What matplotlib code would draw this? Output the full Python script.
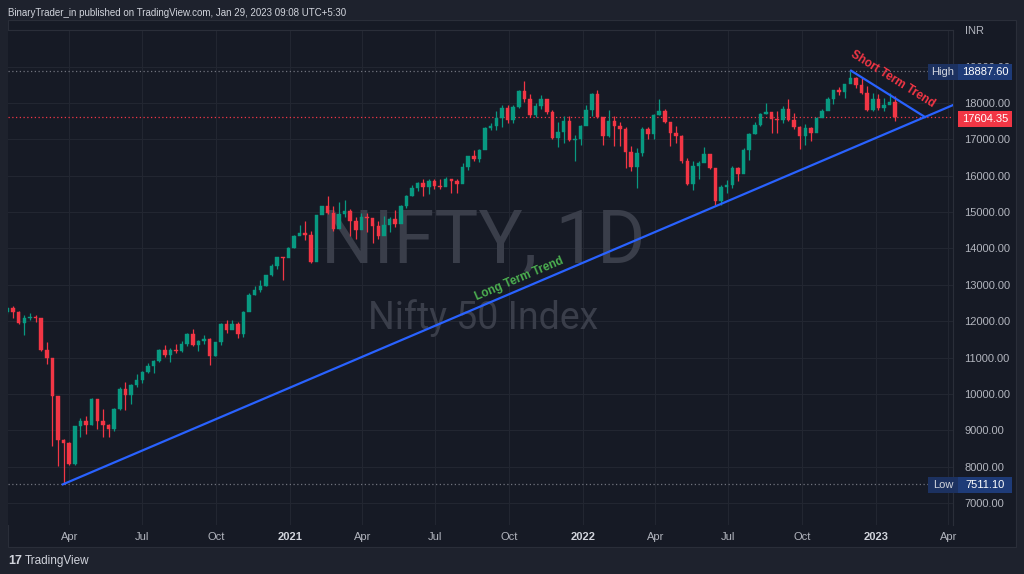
import matplotlib
matplotlib.use("Agg")
import matplotlib.pyplot as plt
import matplotlib.dates as mdates
from matplotlib.patches import Rectangle
import pandas as pd

# weekly NIFTY bars (week ending Friday)
first_open = 12256
highs = [12389, 12430, 12273, 12160, 12231, 12159, 12087, 11433, 10751, 9838,
         8750, 8678, 9128, 9324, 9390, 9890, 9450, 9584, 9178, 9598,
         10177, 10328, 10272, 10553, 10631, 10847, 10933, 11225, 11341, 11256,
         11373, 11460, 11686, 11794, 11493, 11618, 11535, 11428, 11939, 12025,
         12018, 11975, 12280, 12770, 12963, 13145, 13280, 13579, 13773, 13778,
         14050, 14367, 14653, 14754, 14491, 14932, 15168, 15432, 15176, 15274,
         15336, 15092, 14878, 14984, 14984, 14697, 14753, 14891, 14863, 15044,
         15189, 15469, 15733, 15835, 15901, 15903, 15915, 15915, 15962, 15880,
         15899, 16350, 16543, 16702, 16722, 17340, 17436, 17792, 17947, 17948,
         17941, 18350, 18604, 18241, 18012, 18210, 18123, 17805, 17490, 17639,
         17639, 17118, 17400, 17944, 18286, 18351, 17599, 17794, 17640, 17490,
         17352, 16815, 16758, 17344, 17353, 17704, 18114, 17842, 17422, 17379,
         17132, 16484, 16400, 16414, 16793, 16610, 16083, 15749, 15890, 16275,
         16248, 16752, 17172, 17490, 17724, 17992, 17686, 17778, 17925, 18096,
         17722, 17377, 17428, 17348, 17607, 17838, 18176, 18362, 18442, 18534,
         18888, 18728, 18697, 18473, 18265, 18251, 18142, 18262, 18202]
lows = [12200, 12087, 11930, 11614, 12030, 11990, 11175, 10827, 8555, 8005,
        7511, 8056, 8055, 8823, 8909, 9131, 9044, 8807, 8806, 8968,
        9544, 9544, 9726, 10194, 10299, 10562, 10562, 10887, 11026, 10882,
        11112, 11147, 11327, 11303, 11185, 11367, 10790, 11040, 11347, 11661,
        11775, 11535, 11557, 12321, 12731, 12790, 12962, 13241, 13438, 13131,
        13786, 14021, 14357, 14222, 13596, 13662, 14977, 14935, 14467, 14638,
        14862, 14350, 14264, 14616, 14459, 14151, 14273, 14416, 14461, 14591,
        14758, 15114, 15451, 15586, 15450, 15505, 15635, 15635, 15707, 15514,
        15514, 15834, 16162, 16395, 16376, 16764, 17255, 17270, 17327, 17452,
        17452, 17865, 18032, 17614, 17613, 17836, 17688, 17000, 16782, 16891,
        16966, 16410, 16833, 17383, 17655, 17599, 16836, 17064, 16809, 16810,
        16203, 16133, 15671, 16555, 17006, 17004, 17660, 17442, 16824, 16888,
        16340, 15735, 15601, 15903, 16439, 16172, 15184, 15183, 15511, 15662,
        15858, 16143, 16438, 17154, 17359, 17710, 17166, 17167, 17443, 17497,
        17291, 16748, 16855, 16950, 17312, 17656, 17959, 17969, 18209, 18133,
        18591, 18410, 18256, 17774, 17779, 17796, 17774, 17999, 17494]
closes = [12352, 12248, 11962, 12098, 12113, 12080, 11202, 10989, 9955, 8745,
          8660, 8084, 9112, 9267, 9154, 9860, 9251, 9137, 9040, 9580,
          10142, 9972, 10244, 10383, 10608, 10768, 10902, 11194, 11073, 11214,
          11178, 11372, 11647, 11333, 11464, 11505, 11050, 11417, 11914, 11762,
          11930, 11642, 12264, 12720, 12859, 12969, 13258, 13514, 13761, 13749,
          14018, 14347, 14433, 14372, 13635, 14924, 15163, 14982, 14529, 14938,
          15031, 14744, 14507, 14867, 14835, 14617, 14341, 14631, 14823, 14678,
          15175, 15436, 15670, 15799, 15683, 15860, 15722, 15690, 15923, 15856,
          15763, 16238, 16529, 16450, 16705, 17324, 17369, 17585, 17853, 17532,
          17895, 18338, 18114, 17671, 17916, 18102, 17765, 17026, 17196, 17511,
          16985, 17003, 17354, 17812, 18255, 17617, 17102, 17516, 17374, 17276,
          16658, 16245, 16630, 17287, 17153, 17670, 17784, 17475, 17172, 17103,
          16411, 15782, 16266, 16352, 16584, 16202, 15294, 15699, 15752, 16221,
          16049, 16719, 17158, 17398, 17698, 17758, 17559, 17539, 17833, 17531,
          17327, 17094, 17315, 17186, 17576, 17787, 18117, 18350, 18308, 18512,
          18696, 18497, 18269, 17807, 18105, 17859, 17956, 18027, 17604.35]
weeks = pd.date_range("2020-01-17", periods=len(closes), freq="W-FRI")
opens = [first_open] + closes[:-1]

high_val = 18887.60
low_val = 7511.10
last_val = 17604.35
long_trend = (["2020-03-24", "2023-04-12"], [7511.10, 17990])
short_trend = (["2022-12-01", "2023-03-03"], [18887.60, 17615])
price_ticks = list(range(7000, 20000, 1000))
quarters = ["2020-04-01", "2020-07-01", "2020-10-01", "2021-01-01", "2021-04-01",
            "2021-07-01", "2021-10-01", "2022-01-01", "2022-04-01", "2022-07-01",
            "2022-10-01", "2023-01-01", "2023-04-01"]
quarter_labels = ["Apr", "Jul", "Oct", "2021", "Apr", "Jul", "Oct", "2022",
                  "Apr", "Jul", "Oct", "2023", "Apr"]

UP = "#089981"
DOWN = "#f23645"
BG = "#161a25"
GRID = "#222631"
TXT = "#b2b5be"
plt.rcParams["font.family"] = ["Liberation Sans", "DejaVu Sans"]

fig = plt.figure(figsize=(10.24, 5.74), dpi=100, facecolor="#1e222d")
W, H = 1024, 574
fig.patches.append(Rectangle((8 / W, 1 - 547 / H), 1008 / W, 527 / H,
                             transform=fig.transFigure, facecolor=BG,
                             edgecolor="#2a2e39", lw=0.8, zorder=-5))

ax = fig.add_axes([8 / W, 1 - 525 / H, 945 / W, 495 / H])
ax.set_facecolor(BG)

d0 = mdates.date2num(pd.Timestamp("2021-01-01"))
ppd = 0.8027
ax.set_xlim(d0 - 282 / ppd, d0 + 663 / ppd)
ax.set_ylim(6394, 20007)

for p in price_ticks:
    ax.axhline(p, color=GRID, lw=0.8, zorder=1)
qnums = [mdates.date2num(pd.Timestamp(q)) for q in quarters]
for q in qnums:
    ax.axvline(q, color=GRID, lw=0.8, zorder=1)

# watermark
ax.text(0.503, 0.572, "NIFTY, 1D", transform=ax.transAxes, ha="center",
        va="center", fontsize=53, color="#3a3e4a", family=["Roboto", "DejaVu Sans"],
        zorder=2)
ax.text(0.503, 0.418, "Nifty 50 Index", transform=ax.transAxes, ha="center",
        va="center", fontsize=27, color="#3a3e4a", family=["Roboto", "DejaVu Sans"],
        zorder=2)

# candles
xs = mdates.date2num(weeks) - 2
for x, o, h, l, c in zip(xs, opens, highs, lows, closes):
    col = UP if c >= o else DOWN
    ax.vlines(x, l, h, color=col, lw=0.9, zorder=4)
    ax.add_patch(Rectangle((x - 2.2, min(o, c)), 4.4, max(abs(c - o), 8),
                           facecolor=col, edgecolor=col, lw=0.3, zorder=4))

# reference lines
ax.axhline(high_val, color="#70737d", lw=0.9, ls=(0, (1, 2)), zorder=3)
ax.axhline(low_val, color="#70737d", lw=0.9, ls=(0, (1, 2)), zorder=3)
ax.axhline(last_val, color=DOWN, lw=0.9, ls=(0, (1, 2)), zorder=3)

# trend lines
lx = mdates.date2num(pd.to_datetime(long_trend[0]))
sx = mdates.date2num(pd.to_datetime(short_trend[0]))
ax.plot(lx, long_trend[1], color="#2962ff", lw=1.6, zorder=5)
ax.plot(sx, short_trend[1], color="#2962ff", lw=1.6, zorder=5)
ax.text(mdates.date2num(pd.Timestamp("2021-10-14")), 13150, "Long Term Trend",
        color="#4caf50", fontsize=8.5, fontweight="bold", rotation=23,
        ha="center", va="center", zorder=6)
ax.text(mdates.date2num(pd.Timestamp("2023-01-22")), 18650, "Short Term Trend",
        color=DOWN, fontsize=8.5, fontweight="bold", rotation=-32,
        ha="center", va="center", zorder=6)

ax.set_xticks(qnums)
ax.set_xticklabels(quarter_labels)
for lab in ax.get_xticklabels():
    if lab.get_text().isdigit():
        lab.set_fontweight("bold")
        lab.set_color("#d1d4dc")
    else:
        lab.set_color(TXT)
ax.tick_params(axis="x", length=0, pad=5, labelsize=8)
ax.yaxis.tick_right()
ax.set_yticks(price_ticks)
ax.set_yticklabels([f"{p:.2f}" for p in price_ticks])
ax.tick_params(axis="y", length=0, pad=8, labelsize=8, labelcolor=TXT)
for s in ax.spines.values():
    s.set_color("#2a2e39")
    s.set_linewidth(0.8)
ax.spines["left"].set_visible(False)
ax.spines["bottom"].set_visible(False)

# price labels on the scale
def tag(y_px, left_txt, val_txt, col_l, col_r):
    yc = 1 - y_px / H
    if left_txt:
        fig.patches.append(Rectangle((928 / W, yc - 8 / H), 30 / W, 16 / H,
                                     transform=fig.transFigure, facecolor=col_l,
                                     zorder=5))
        fig.text(943 / W, yc, left_txt, color="#d1d4dc", fontsize=8,
                 ha="center", va="center", zorder=6)
    fig.patches.append(Rectangle((958 / W, yc - 8 / H), 54 / W, 16 / H,
                                 transform=fig.transFigure, facecolor=col_r,
                                 zorder=5))
    fig.text(985 / W, yc, val_txt, color="white", fontsize=8,
             ha="center", va="center", zorder=6)

tag(72, "High", f"{high_val:.2f}", "#1c3160", "#1e3b78")
tag(485, "Low", f"{low_val:.2f}", "#1c3160", "#1e3b78")
tag(119, "", f"{last_val:.2f}", DOWN, DOWN)

fig.text(965 / W, 1 - 31 / H, "INR", color=TXT, fontsize=8, va="center")
fig.text(8 / W, 1 - 13 / H,
         "BinaryTrader_in published on TradingView.com, Jan 29, 2023 09:08 UTC+5:30",
         color="#d1d4dc", fontsize=7, va="center")
fig.text(8 / W, 1 - 561 / H, "17", color="#d1d4dc", fontsize=9,
         fontweight="bold", va="center")
fig.text(25 / W, 1 - 561 / H, "TradingView", color="#d1d4dc", fontsize=8.5,
         va="center")

fig.savefig("out.png", dpi=100, facecolor=fig.get_facecolor())
